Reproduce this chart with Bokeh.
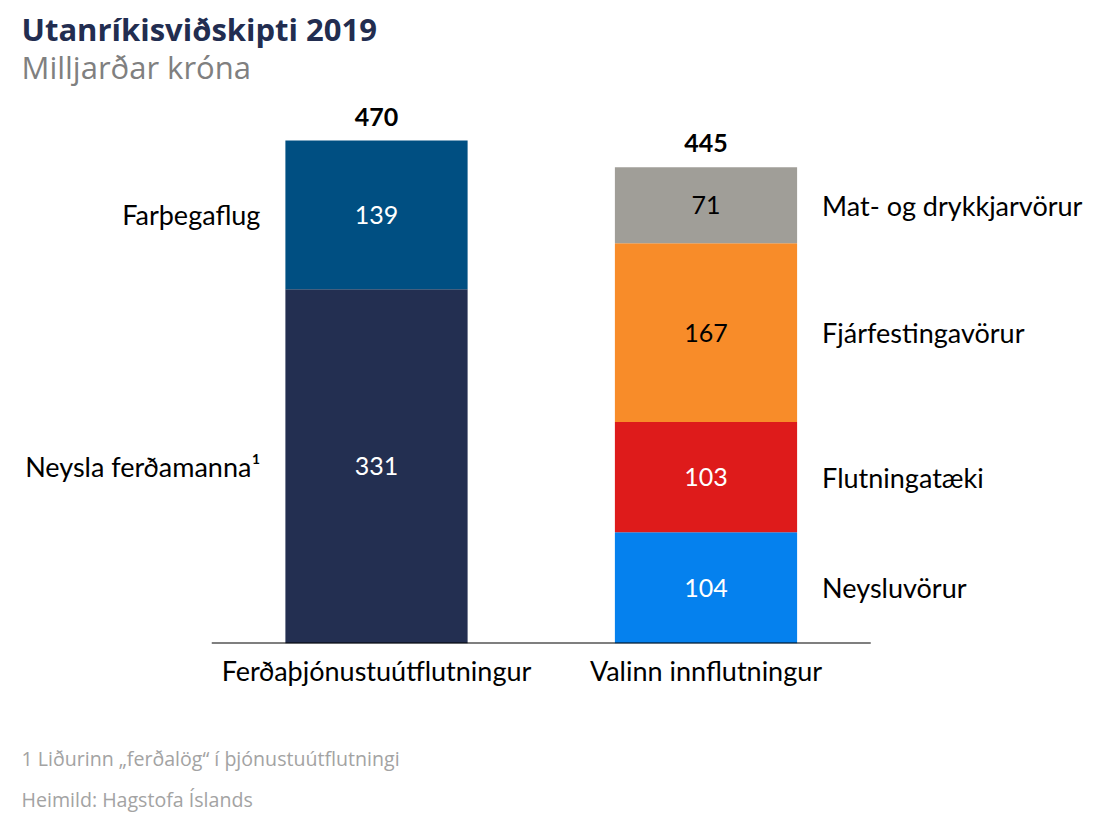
from bokeh.plotting import figure
from bokeh.layouts import column
from bokeh.models import Range1d, FixedTicker, Label, ColumnDataSource
from bokeh.core.properties import value
from bokeh.embed import file_html
from bokeh.resources import INLINE

# ---- data ----
categories = ["Ferðaþjónustuútflutningur", "Valinn innflutningur"]

export_labels = ["Neysla ferðamanna¹", "Farþegaflug"]
export_values = [331, 139]
export_colors = ["#232F51", "#004F82"]
export_text_colors = ["white", "white"]

import_labels = ["Neysluvörur", "Flutningatæki", "Fjárfestingavörur", "Mat- og drykkjarvörur"]
import_values = [104, 103, 167, 71]
import_colors = ["#0581EE", "#DE1B1B", "#F88C29", "#A09E98"]
import_text_colors = ["white", "white", "black", "black"]

title_text = "Utanríkisviðskipti 2019"
subtitle_text = "Milljarðar króna"
footnote_text = "1 Liðurinn „ferðalög“ í þjónustuútflutningi"
source_text = "Heimild: Hagstofa Íslands"

CHART_FONT = "Lato"
TITLE_FONT = "Open Sans"
LABEL_SIZE = "27px"
NUM_SIZE = "25px"
BAR_W = 0.553
PX_PER_UNIT = 1.0702

W = 1100
H1, BASE = 700, 643          # main figure height, baseline (frame bottom) in px
H2 = 120                     # footnote strip height
ymax = BASE / PX_PER_UNIT
CX0, STEP = 376, 329.5

p = figure(width=W, height=H1, output_backend="svg", toolbar_location=None,
           x_range=Range1d(-CX0 / STEP, (W - CX0) / STEP),
           y_range=Range1d(0, ymax), y_axis_location=None,
           min_border_left=0, min_border_right=0,
           min_border_top=0, min_border_bottom=H1 - BASE)
p.outline_line_color = None
p.xgrid.visible = False
p.ygrid.visible = False


def stack(idx, labels, vals, colors, tcolors):
    bottoms, tops = [], []
    acc = 0
    for v in vals:
        bottoms.append(acc)
        acc += v
        tops.append(acc)
    src = ColumnDataSource(dict(
        x=[idx] * len(vals), bottom=bottoms, top=tops,
        mid=[(b + t) / 2 for b, t in zip(bottoms, tops)],
        val=[str(v) for v in vals], lab=labels, color=colors, tcolor=tcolors))
    p.vbar(x="x", width=BAR_W, bottom="bottom", top="top", color="color",
           line_color=None, source=src)
    p.text(x="x", y="mid", text="val", text_color="tcolor", text_align="center",
           text_baseline="middle", text_font=value(CHART_FONT),
           text_font_size=NUM_SIZE, source=src)
    return src, acc


src_e, tot_e = stack(0, export_labels, export_values, export_colors, export_text_colors)
src_i, tot_i = stack(1, import_labels, import_values, import_colors, import_text_colors)

# side labels
p.text(x=[0 - BAR_W / 2] * len(export_labels), y=src_e.data["mid"], text=export_labels,
       text_align="right", text_baseline="middle", x_offset=-25,
       text_font=value(CHART_FONT), text_font_size=LABEL_SIZE, text_color="black")
p.text(x=[1 + BAR_W / 2] * len(import_labels), y=src_i.data["mid"], text=import_labels,
       text_align="left", text_baseline="middle", x_offset=25,
       text_font=value(CHART_FONT), text_font_size=LABEL_SIZE, text_color="black")

# totals
p.text(x=[0, 1], y=[tot_e, tot_i], text=[str(tot_e), str(tot_i)],
       text_align="center", text_baseline="bottom", y_offset=-15,
       text_font=value(CHART_FONT), text_font_style="bold",
       text_font_size=NUM_SIZE, text_color="black")

# baseline
p.segment(x0=[-0.5], x1=[len(categories) - 0.5], y0=[0], y1=[0],
          line_color="black", line_width=2)

ax = p.xaxis[0]
ax.ticker = FixedTicker(ticks=list(range(len(categories))))
ax.major_label_overrides = {i: c for i, c in enumerate(categories)}
ax.axis_line_color = None
ax.major_tick_line_color = None
ax.minor_tick_line_color = None
ax.major_label_text_font = CHART_FONT
ax.major_label_text_font_size = LABEL_SIZE
ax.major_label_text_color = "black"
ax.major_label_standoff = 4


def screen_label(fig, text, y_from_top, fig_bottom, size, color, style="normal"):
    fig.add_layout(Label(x=21, y=fig_bottom - y_from_top, x_units="screen", y_units="screen",
                         text=text, text_baseline="alphabetic", text_align="left",
                         text_font=TITLE_FONT, text_font_size=size,
                         text_font_style=style, text_color=color))


screen_label(p, title_text, 28, BASE, "31px", "#222D50", "bold")
screen_label(p, subtitle_text, 66, BASE, "31px", "#808080")

# footnote strip
f = figure(width=W, height=H2, output_backend="svg", toolbar_location=None,
           x_range=Range1d(0, 1), y_range=Range1d(0, 1),
           x_axis_location=None, y_axis_location=None,
           min_border_left=0, min_border_right=0, min_border_top=0, min_border_bottom=0)
f.outline_line_color = None
f.xgrid.visible = False
f.ygrid.visible = False
screen_label(f, footnote_text, 758 - H1, H2, "19.6px", "#A3A3A3")
screen_label(f, source_text, 799 - H1, H2, "19.6px", "#A3A3A3")

layout = column(p, f)
open("out.html", "w").write(file_html(layout, INLINE))
